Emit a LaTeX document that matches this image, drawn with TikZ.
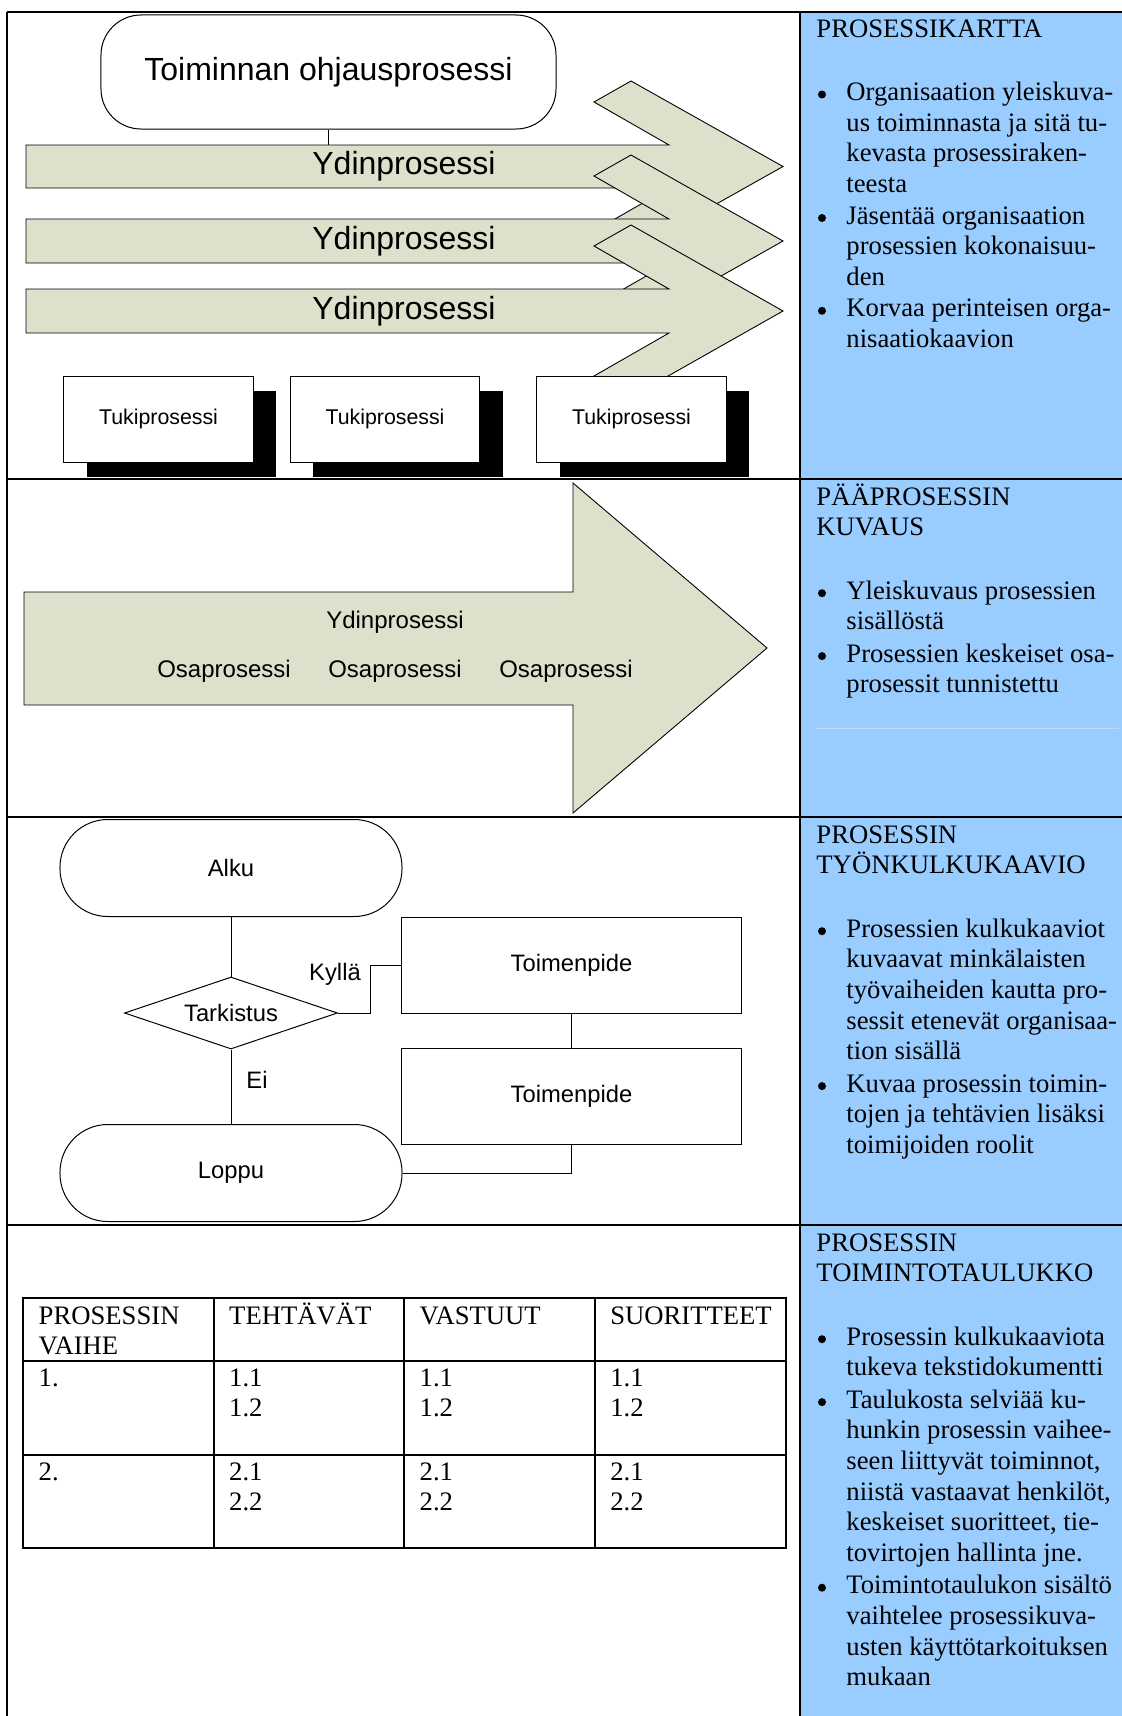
\documentclass[tikz,border=0pt]{standalone}
\usepackage{fontspec}
\setmainfont{Liberation Serif}
\newfontfamily\diagfont{Liberation Sans}
\usetikzlibrary{shapes.geometric,shadows}

\definecolor{sideblue}{RGB}{153,204,255}
\definecolor{procfill}{RGB}{221,224,203}
\definecolor{faintrule}{RGB}{186,219,255}

\tikzset{
  framerule/.style={line width=0.9pt},
  link/.style={line width=0.45pt},
  procarrow/.style={draw=black, line width=0.4pt, fill=procfill},
  bandlabel/.style={inner sep=0, font=\diagfont\fontsize{14.4}{17}\selectfont},
  partlabel/.style={inner sep=0, font=\diagfont\fontsize{10.8}{13}\selectfont},
  flowlabel/.style={inner sep=0, font=\diagfont\fontsize{10.7}{13}\selectfont},
  controlbox/.style={draw, line width=0.45pt, fill=white, rounded corners=18pt,
    minimum width=204.75pt, minimum height=51.3pt, inner sep=0,
    font=\diagfont\fontsize{14.4}{17}\selectfont},
  supportbox/.style={draw, line width=0.45pt, fill=white,
    minimum width=85.3pt, minimum height=38.7pt, inner sep=0,
    font=\diagfont\fontsize{9.6}{11}\selectfont,
    drop shadow={shadow xshift=10.35pt, shadow yshift=-6.75pt, fill=black, opacity=1}},
  terminal/.style={draw, line width=0.45pt, rounded corners=21.5pt,
    minimum width=153.9pt, minimum height=43.65pt, inner sep=0,
    font=\diagfont\fontsize{10.7}{13}\selectfont},
  task/.style={draw, line width=0.45pt, minimum width=153pt, minimum height=43.2pt,
    inner sep=0, font=\diagfont\fontsize{10.7}{13}\selectfont},
  check/.style={diamond, draw, line width=0.45pt, aspect=2.96,
    minimum width=95.85pt, minimum height=32.4pt, inner sep=0,
    font=\diagfont\fontsize{10.7}{13}\selectfont},
  sideline/.style={anchor=base west, inner sep=0, font=\fontsize{12}{13.8}\selectfont},
  sidedot/.style={circle, fill=black, inner sep=0, minimum size=3.6pt},
  cell/.style={anchor=base west, inner sep=0, font=\fontsize{12}{13.8}\selectfont},
}

\begin{document}
\begin{tikzpicture}[x=0.45pt, y=-0.45pt]
\useasboundingbox (0,0) rectangle (1122,1716);

% description column background
\fill[sideblue] (800,12) rectangle (1122,1716);

%%% Row 1: process map
\path[procarrow] (26,145) -- (669,145) -- (594,102) -- (631,81) -- (783,166.5)
  -- (631,252) -- (594,231) -- (669,188) -- (26,188) -- cycle;
\node[bandlabel] (core1) at (404,166.5) {Ydinprosessi};
\path[procarrow] (26,219) -- (669,219) -- (594,176) -- (631,155) -- (783,241)
  -- (631,327) -- (594,306) -- (669,263) -- (26,263) -- cycle;
\node[bandlabel] (core2) at (404,241) {Ydinprosessi};
\path[procarrow] (26,289) -- (669,289) -- (594,246) -- (631,225) -- (783,311)
  -- (631,397) -- (594,376) -- (669,333) -- (26,333) -- cycle;
\node[bandlabel] (core3) at (404,311) {Ydinprosessi};

\node[controlbox] (control) at (328.5,72) {Toiminnan ohjausprosessi};
\coordinate (band1top) at (328.5,145);
\draw[link] (control.south) -- (band1top);

\node[supportbox] (support1) at (158.5,419) {Tukiprosessi};
\node[supportbox] (support2) at (385,419) {Tukiprosessi};
\node[supportbox] (support3) at (631.5,419) {Tukiprosessi};

%%% Row 2: main process
\path[procarrow] (24,592) -- (573,592) -- (573,483) -- (767,648) -- (573,813)
  -- (573,705) -- (24,705) -- cycle;
\node[partlabel] (mainproc) at (395,622) {Ydinprosessi};
\node[partlabel] (sub1) at (224,671) {Osaprosessi};
\node[partlabel] (sub2) at (395,671) {Osaprosessi};
\node[partlabel] (sub3) at (566,671) {Osaprosessi};

%%% Row 3: workflow chart
\node[terminal] (start) at (231,868) {Alku};
\node[check] (test) at (231,1013) {Tarkistus};
\node[task] (act1) at (571.5,965) {Toimenpide};
\node[task] (act2) at (571.5,1096) {Toimenpide};
\node[terminal] (stop) at (231,1173) {Loppu};

\draw[link] (start.south) -- (test.north);
\draw[link] (test.east) -- ++(32,0) |- (act1.west);
\draw[link] (act1.south) -- (act2.north);
\draw[link] (test.south) -- (stop.north);
\draw[link] (act2.south) |- (stop.east);
\node[flowlabel] (yes) at (335,974) {Kyllä};
\node[flowlabel] (no) at (257,1080) {Ei};

%%% Row 4: activity table
\draw[framerule] (23,1298) rectangle (786,1547.5);
\draw[framerule] (23,1361) -- (786,1361);
\draw[framerule] (23,1454.5) -- (786,1454.5);
\foreach \cx in {213.5,404,594.5}
  \draw[framerule] (\cx,1298) -- (\cx,1547.5);
\node[cell] (h1a) at (38.3,1324.5) {PROSESSIN};
\node[cell] (h1b) at (38.3,1354.5) {VAIHE};
\node[cell] (h2) at (228.8,1324.5) {TEHTÄVÄT};
\node[cell] (h3) at (419.3,1324.5) {VASTUUT};
\node[cell] (h4) at (609.8,1324.5) {SUORITTEET};
\node[cell] (r1) at (38.3,1386) {1.};
\node[cell] (r2) at (38.3,1480) {2.};
\foreach \cx [count=\k] in {228.8,419.3,609.8} {
  \node[cell] (c\k a) at (\cx,1386) {1.1};
  \node[cell] (c\k b) at (\cx,1416.5) {1.2};
  \node[cell] (c\k c) at (\cx,1480) {2.1};
  \node[cell] (c\k d) at (\cx,1510) {2.2};
}

%%% Description column (bullet dots sit 6px above each item's first baseline)
% PROSESSIKARTTA
\node[sideline] (t1) at (816,37) {PROSESSIKARTTA};
\node[sidedot] (b1a) at (822,94.5) {};
\node[sideline] (l1a) at (846,100.5) {Organisaation yleiskuva-};
\node[sideline] (l1b) at (846,131.2) {us toiminnasta ja sitä tu-};
\node[sideline] (l1c) at (846,161.8) {kevasta prosessiraken-};
\node[sideline] (l1d) at (846,192.5) {teesta};
\node[sidedot] (b1b) at (822,218) {};
\node[sideline] (l1e) at (846,224) {Jäsentää organisaation};
\node[sideline] (l1f) at (846,254.7) {prosessien kokonaisuu-};
\node[sideline] (l1g) at (846,285.3) {den};
\node[sidedot] (b1c) at (822,310.8) {};
\node[sideline] (l1h) at (846,316.8) {Korvaa perinteisen orga-};
\node[sideline] (l1i) at (846,347.5) {nisaatiokaavion};

% PÄÄPROSESSIN KUVAUS
\node[sideline] (t2a) at (816,505) {PÄÄPROSESSIN};
\node[sideline] (t2b) at (816,535.7) {KUVAUS};
\node[sidedot] (b2a) at (822,593.2) {};
\node[sideline] (l2a) at (846,599.2) {Yleiskuvaus prosessien};
\node[sideline] (l2b) at (846,629.9) {sisällöstä};
\node[sidedot] (b2b) at (822,656.1) {};
\node[sideline] (l2c) at (846,662.1) {Prosessien keskeiset osa-};
\node[sideline] (l2d) at (846,692.8) {prosessit tunnistettu};
\draw[faintrule, line width=0.4pt] (815,728) -- (1119,728);

% PROSESSIN TYÖNKULKUKAAVIO
\node[sideline] (t3a) at (816,843) {PROSESSIN};
\node[sideline] (t3b) at (816,873.7) {TYÖNKULKUKAAVIO};
\node[sidedot] (b3a) at (822,931.2) {};
\node[sideline] (l3a) at (846,937.2) {Prosessien kulkukaaviot};
\node[sideline] (l3b) at (846,967.9) {kuvaavat minkälaisten};
\node[sideline] (l3c) at (846,998.5) {työvaiheiden kautta pro-};
\node[sideline] (l3d) at (846,1029.2) {sessit etenevät organisaa-};
\node[sideline] (l3e) at (846,1059.9) {tion sisällä};
\node[sidedot] (b3b) at (822,1086.1) {};
\node[sideline] (l3f) at (846,1092.1) {Kuvaa prosessin toimin-};
\node[sideline] (l3g) at (846,1122.8) {tojen ja tehtävien lisäksi};
\node[sideline] (l3h) at (846,1153.5) {toimijoiden roolit};

% PROSESSIN TOIMINTOTAULUKKO
\node[sideline] (t4a) at (816,1251) {PROSESSIN};
\node[sideline] (t4b) at (816,1281.7) {TOIMINTOTAULUKKO};
\node[sidedot] (b4a) at (822,1339.2) {};
\node[sideline] (l4a) at (846,1345.2) {Prosessin kulkukaaviota};
\node[sideline] (l4b) at (846,1375.9) {tukeva tekstidokumentti};
\node[sidedot] (b4b) at (822,1402.1) {};
\node[sideline] (l4c) at (846,1408.1) {Taulukosta selviää ku-};
\node[sideline] (l4d) at (846,1438.8) {hunkin prosessin vaihee-};
\node[sideline] (l4e) at (846,1469.5) {seen liittyvät toiminnot,};
\node[sideline] (l4f) at (846,1500.1) {niistä vastaavat henkilöt,};
\node[sideline] (l4g) at (846,1530.8) {keskeiset suoritteet, tie-};
\node[sideline] (l4h) at (846,1561.5) {tovirtojen hallinta jne.};
\node[sidedot] (b4c) at (822,1587.7) {};
\node[sideline] (l4i) at (846,1593.7) {Toimintotaulukon sisältö};
\node[sideline] (l4j) at (846,1624.4) {vaihtelee prosessikuva-};
\node[sideline] (l4k) at (846,1655.1) {usten käyttötarkoituksen};
\node[sideline] (l4l) at (846,1685.7) {mukaan};

%%% Frame and row rules
\draw[framerule] (7,12) -- (1122,12);
\draw[framerule] (7,12) -- (7,1716);
\draw[framerule] (800,12) -- (800,1716);
\foreach \ry in {479,817,1225}
  \draw[framerule] (7,\ry) -- (1122,\ry);
\end{tikzpicture}
\end{document}
